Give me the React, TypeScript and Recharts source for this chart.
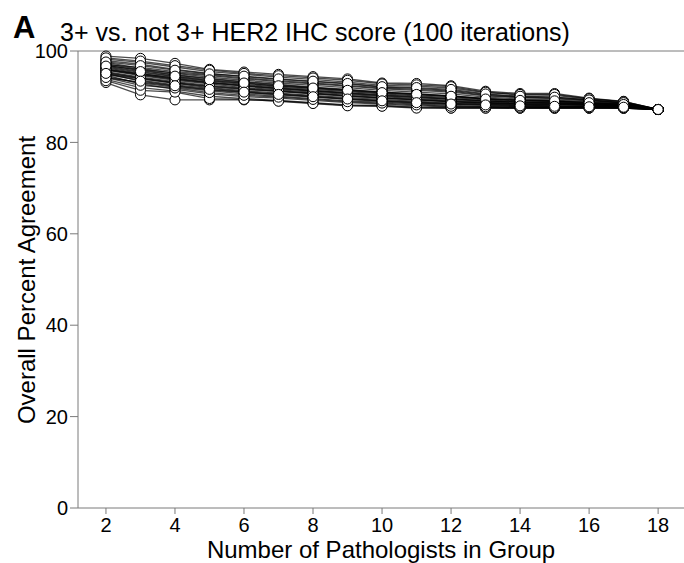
import { LineChart, Line, XAxis, YAxis, ReferenceLine, Label } from 'recharts';

// group size on the x axis
const groupSizes = [2, 3, 4, 5, 6, 7, 8, 9, 10, 11, 12, 13, 14, 15, 16, 17, 18];

// overall percent agreement per iteration, one list per group size
const agreement2 = [98.9, 97.5, 96.8, 95.2, 94.1, 97.9, 96.1, 93.1, 95.8, 98.2, 94.7, 96.5, 95.0, 97.2, 93.8, 96.9, 95.5, 94.4, 98.5, 96.3, 95.9, 94.9, 97.0, 93.5, 96.0, 95.3, 97.6, 94.2, 96.7, 95.1];
const agreement3 = [98.4, 96.2, 95.9, 94.0, 93.2, 97.1, 95.0, 90.4, 94.6, 97.5, 92.8, 95.3, 93.9, 96.0, 92.0, 95.7, 94.3, 93.0, 97.8, 95.1, 94.8, 93.6, 96.4, 91.4, 94.9, 94.1, 96.8, 92.5, 95.5, 93.4];
const agreement4 = [97.3, 95.1, 94.8, 93.0, 92.3, 96.0, 94.2, 89.3, 93.6, 96.5, 91.6, 94.4, 92.9, 95.2, 91.2, 94.7, 93.3, 92.1, 96.8, 94.0, 93.8, 92.6, 95.5, 91.0, 93.9, 93.1, 95.8, 91.9, 94.5, 92.4];
const agreement5 = [96.0, 94.3, 94.0, 92.2, 91.5, 95.1, 93.4, 89.3, 92.8, 95.5, 90.6, 93.5, 92.0, 94.6, 90.1, 93.9, 92.5, 91.3, 95.8, 93.2, 93.0, 91.8, 94.8, 89.6, 93.1, 92.3, 95.0, 90.9, 93.7, 91.6];
const agreement6 = [95.4, 93.6, 93.3, 91.6, 90.9, 94.4, 92.7, 89.3, 92.0, 94.9, 90.0, 92.9, 91.3, 93.9, 89.6, 93.2, 91.8, 90.6, 95.1, 92.5, 92.3, 91.1, 94.1, 89.4, 92.4, 91.7, 94.5, 90.3, 93.0, 91.0];
const agreement7 = [94.9, 93.0, 92.7, 91.1, 90.4, 93.8, 92.1, 89.1, 91.5, 94.3, 89.7, 92.3, 90.8, 93.3, 89.2, 92.6, 91.3, 90.1, 94.6, 91.9, 91.7, 90.6, 93.5, 89.0, 91.8, 91.2, 93.9, 89.9, 92.4, 90.5];
const agreement8 = [94.4, 92.5, 92.1, 90.6, 89.9, 93.3, 91.6, 88.6, 91.0, 93.8, 89.2, 91.8, 90.3, 92.8, 88.7, 92.0, 90.8, 89.6, 94.1, 91.4, 91.2, 90.1, 93.0, 88.5, 91.3, 90.7, 93.4, 89.4, 91.9, 90.0];
const agreement9 = [93.9, 92.0, 91.6, 90.1, 89.4, 92.8, 91.1, 88.1, 90.5, 93.2, 88.7, 91.3, 89.8, 92.3, 88.2, 91.5, 90.3, 89.1, 93.6, 90.9, 90.7, 89.6, 92.5, 88.0, 90.8, 90.2, 92.9, 88.9, 91.4, 89.5];
const agreement10 = [93.0, 91.4, 91.0, 89.7, 89.0, 92.1, 90.6, 88.0, 90.0, 92.5, 88.4, 90.8, 89.4, 91.7, 88.1, 91.0, 89.8, 88.8, 92.8, 90.4, 90.2, 89.2, 91.9, 87.9, 90.3, 89.7, 92.2, 88.6, 90.9, 89.1];
const agreement11 = [92.9, 91.0, 90.6, 89.3, 88.6, 91.8, 90.2, 87.6, 89.6, 92.3, 88.0, 90.4, 89.0, 91.4, 87.7, 90.6, 89.4, 88.4, 92.6, 90.0, 89.8, 88.8, 91.6, 87.5, 89.9, 89.3, 92.0, 88.2, 90.5, 88.7];
const agreement12 = [92.4, 90.6, 90.2, 88.9, 88.3, 91.4, 89.8, 87.5, 89.2, 91.9, 87.8, 90.0, 88.6, 91.0, 87.6, 90.2, 89.0, 88.1, 92.2, 89.6, 89.4, 88.5, 91.2, 87.5, 89.5, 88.9, 91.6, 87.9, 90.1, 88.4];
const agreement13 = [91.2, 89.9, 89.6, 88.6, 88.1, 90.5, 89.3, 87.5, 88.8, 90.9, 87.7, 89.5, 88.4, 90.2, 87.6, 89.6, 88.7, 87.9, 91.0, 89.1, 89.0, 88.3, 90.3, 87.5, 89.1, 88.6, 90.6, 87.8, 89.5, 88.2];
const agreement14 = [90.7, 89.5, 89.2, 88.3, 87.9, 90.0, 88.9, 87.5, 88.5, 90.4, 87.6, 89.1, 88.2, 89.8, 87.5, 89.3, 88.5, 87.8, 90.5, 88.8, 88.7, 88.1, 89.9, 87.5, 88.8, 88.4, 90.1, 87.7, 89.2, 88.0];
const agreement15 = [90.7, 89.3, 89.0, 88.2, 87.8, 89.9, 88.8, 87.5, 88.4, 90.3, 87.6, 89.0, 88.0, 89.6, 87.5, 89.1, 88.4, 87.7, 90.5, 88.6, 88.6, 88.0, 89.7, 87.5, 88.7, 88.3, 89.9, 87.6, 89.1, 87.9];
const agreement16 = [89.7, 88.9, 88.7, 88.1, 87.8, 89.3, 88.5, 87.5, 88.2, 89.5, 87.6, 88.6, 87.9, 89.1, 87.5, 88.7, 88.2, 87.7, 89.6, 88.4, 88.4, 87.9, 89.2, 87.5, 88.4, 88.1, 89.3, 87.6, 88.7, 87.8];
const agreement17 = [89.0, 88.5, 88.3, 87.9, 87.7, 88.7, 88.2, 87.5, 88.0, 88.9, 87.5, 88.3, 87.8, 88.6, 87.5, 88.4, 88.0, 87.6, 88.9, 88.1, 88.1, 87.8, 88.6, 87.5, 88.2, 87.9, 88.7, 87.6, 88.3, 87.7];
// all 18 pathologists: only one possible group
const agreementAll18 = 87.2;

const yTicks = [0, 20, 40, 60, 80, 100];
const xTicks = [2, 4, 6, 8, 10, 12, 14, 16, 18];

const columns = [agreement2, agreement3, agreement4, agreement5, agreement6, agreement7, agreement8, agreement9,
  agreement10, agreement11, agreement12, agreement13, agreement14, agreement15, agreement16, agreement17];
const iterationKeys = agreement2.map((_, i) => `it${i}`);

const data = groupSizes.map((size, j) => {
  const row: Record<string, number> = { size };
  iterationKeys.forEach((key, i) => {
    row[key] = j < columns.length ? columns[j][i] : agreementAll18;
  });
  return row;
});

const font = '"Liberation Sans", Arial, sans-serif';
const axisGrey = '#7a7a7a';

export default function App() {
  return (
    <div style={{ position: 'absolute', left: 0, top: 0, width: 684, height: 563, background: '#fff', fontFamily: font }}>
      <svg width={684} height={50} style={{ position: 'absolute', left: 0, top: 0 }}>
        <text x={13} y={38} fontSize={31} fontWeight="bold" fill="#000" fontFamily={font}>A</text>
        <text x={60} y={41} fontSize={25} fill="#000" fontFamily={font}>3+ vs. not 3+ HER2 IHC score (100 iterations)</text>
      </svg>
      <LineChart width={684} height={563} data={data} margin={{ top: 51, right: 0, bottom: 0, left: 0 }}>
        <XAxis
          dataKey="size"
          type="number"
          domain={[1.19, 18.75]}
          ticks={xTicks}
          allowDataOverflow
          height={55}
          stroke={axisGrey}
          tickSize={6}
          tickMargin={4}
          tick={{ fill: '#000', fontSize: 20, fontFamily: font }}
        >
          <Label value="Number of Pathologists in Group" position="insideBottom" offset={5} fill="#000" fontSize={24} fontFamily={font} />
        </XAxis>
        <YAxis
          type="number"
          domain={[0, 100]}
          ticks={yTicks}
          width={78}
          stroke={axisGrey}
          tickSize={8}
          tickMargin={2}
          tick={{ fill: '#000', fontSize: 20, fontFamily: font }}
        >
          <Label
            content={() => (
              <text x={35} y={280} transform="rotate(-90 35 280)" textAnchor="middle" fontSize={24} fill="#000" fontFamily={font}>
                Overall Percent Agreement
              </text>
            )}
          />
        </YAxis>
        <ReferenceLine y={100} stroke={axisGrey} />
        {iterationKeys.map((key) => (
          <Line
            key={`line-${key}`}
            dataKey={key}
            stroke="#000"
            strokeOpacity={0.7}
            strokeWidth={1.3}
            dot={false}
            activeDot={false}
            isAnimationActive={false}
          />
        ))}
        {iterationKeys.map((key) => (
          <Line
            key={`dots-${key}`}
            dataKey={key}
            stroke="none"
            dot={{ r: 5, fill: '#fff', stroke: '#000', strokeWidth: 1 }}
            activeDot={false}
            isAnimationActive={false}
          />
        ))}
      </LineChart>
    </div>
  );
}
